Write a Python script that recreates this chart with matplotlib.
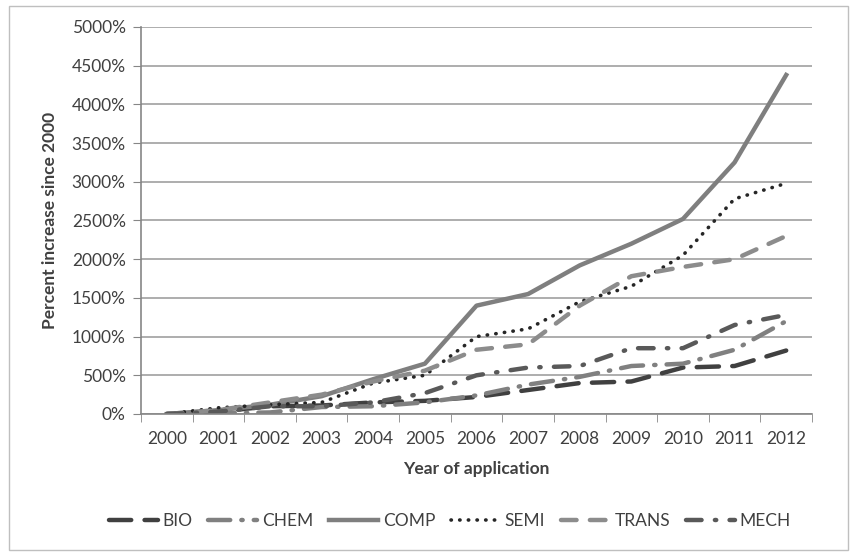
import matplotlib
matplotlib.use("Agg")
import matplotlib.pyplot as plt
from matplotlib.patches import Rectangle
import numpy as np

years = ["2000", "2001", "2002", "2003", "2004", "2005", "2006",
         "2007", "2008", "2009", "2010", "2011", "2012"]
bio = [0, 30, 100, 110, 150, 170, 220, 310, 400, 420, 600, 620, 820]
chem = [0, 10, 20, 90, 100, 150, 240, 380, 480, 620, 650, 830, 1200]
comp = [0, 50, 120, 230, 450, 650, 1400, 1550, 1920, 2200, 2520, 3250, 4380]
semi = [0, 80, 120, 150, 400, 500, 1000, 1100, 1450, 1650, 2050, 2780, 2980]
trans = [0, 50, 150, 250, 420, 560, 830, 900, 1400, 1780, 1900, 2000, 2300]
mech = [0, 30, 100, 100, 150, 270, 500, 600, 620, 850, 850, 1150, 1280]
yticks = list(range(0, 5001, 500))

plt.rcParams['font.family'] = ['Lato', 'DejaVu Sans']
FS = 12.5

fig = plt.figure(figsize=(8.57, 5.54), dpi=100)
ax = fig.add_axes([141/857, 1 - 414/554, (812-141)/857, (414-27)/554])

x = np.arange(len(years))
lw = 3.2
ax.plot(x, bio, color='#404040', lw=lw, dashes=(5, 3), label='BIO', dash_capstyle='round')
ax.plot(x, chem, color='#808080', lw=lw, dashes=(5, 2.5, 0.3, 2.5), label='CHEM', dash_capstyle='round')
ax.plot(x, comp, color='#7f7f7f', lw=lw, label='COMP')
ax.plot(x, semi, color='#262626', lw=2.6, dashes=(0.1, 2.3), label='SEMI', dash_capstyle='round')
ax.plot(x, trans, color='#8c8c8c', lw=lw, dashes=(3.5, 3), label='TRANS', dash_capstyle='round')
ax.plot(x, mech, color='#595959', lw=lw, dashes=(3.5, 3, 0.3, 3), label='MECH', dash_capstyle='round')

ax.set_xlim(-0.5, len(years) - 0.5)
ax.set_ylim(0, 5000)
ax.set_yticks(yticks)
ax.set_yticklabels([f"{v}%" for v in yticks], fontsize=FS, color='#404040')
ax.set_xticks(x)
ax.set_xticklabels(years, fontsize=FS, color='#404040')
ax.set_xticks(np.arange(-0.5, len(years), 1), minor=True)
ax.tick_params(axis='x', which='major', length=0, pad=12)
ax.tick_params(axis='x', which='minor', length=6, color='#868686', direction='out')
ax.tick_params(axis='y', length=6, color='#868686', direction='out', pad=5)

ax.grid(axis='y', color='#a0a0a0', lw=1.2)
ax.set_axisbelow(True)
for s in ['top', 'right']:
    ax.spines[s].set_visible(False)
for s in ['left', 'bottom']:
    ax.spines[s].set_color('#868686')
    ax.spines[s].set_linewidth(1.2)

ax.set_xlabel("Year of application", fontsize=FS, fontweight='bold', color='#404040', labelpad=10)
ax.set_ylabel("Percent increase since 2000", fontsize=FS, fontweight='bold', color='#404040', labelpad=10)

leg = fig.legend(loc='center', bbox_to_anchor=(450/857, 1 - 521/554), ncol=6, frameon=False,
                 fontsize=FS, handlelength=2.8, columnspacing=0.9, handletextpad=0.3)
for t in leg.get_texts():
    t.set_color('#404040')

fig.patches.append(Rectangle((9/857, 4/554), (848-9)/857, (548-4)/554, transform=fig.transFigure,
                             fill=False, edgecolor='#bfbfbf', lw=1))

fig.savefig("out.png", dpi=100)
